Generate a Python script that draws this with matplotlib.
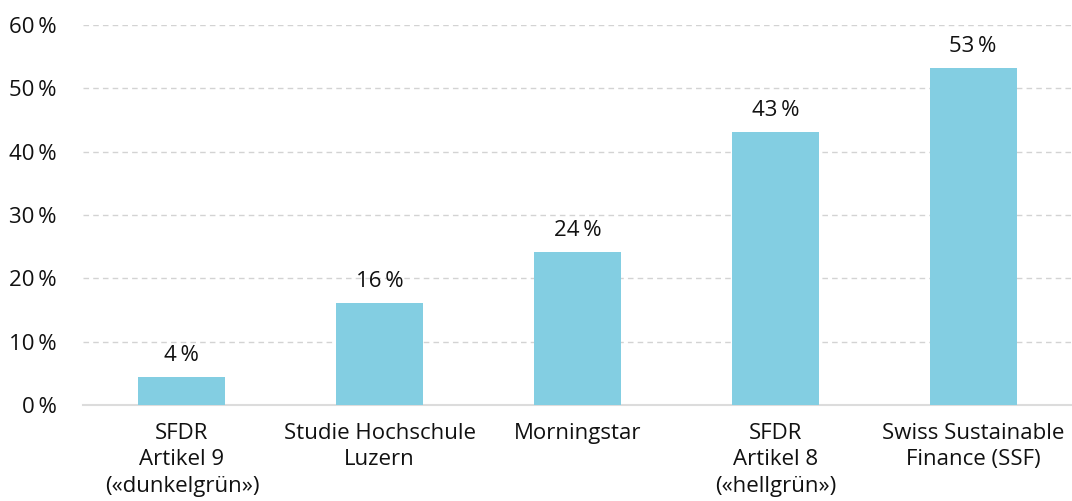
import matplotlib
matplotlib.use("Agg")
import matplotlib.pyplot as plt

# data
categories = ["SFDR\nArtikel 9\n(«dunkelgrün»)", "Studie Hochschule\nLuzern", "Morningstar",
              "SFDR\nArtikel 8\n(«hellgrün»)", "Swiss Sustainable\nFinance (SSF)"]
values = [4.4, 16.1, 24.2, 43.1, 53.2]
value_labels = ["4\u2009%", "16\u2009%", "24\u2009%", "43\u2009%", "53\u2009%"]
yticks = [0, 10, 20, 30, 40, 50, 60]

plt.rcParams['font.family'] = ['Open Sans', 'DejaVu Sans']

fig = plt.figure(figsize=(10.72, 5.01), dpi=100)
ax = fig.add_axes([0.0774, 0.1916, 0.9226, 0.7584])

x = range(len(categories))
ax.bar(x, values, width=0.44, color='#83CEE2', zorder=3)

for xi, v, lab in zip(x, values, value_labels):
    ax.text(xi, v + 1.7, lab, ha='center', va='bottom', fontsize=16, color='#111111')

ax.set_xlim(-0.5, 4.5)
ax.set_ylim(0, 60)
ax.set_yticks(yticks)
ax.set_yticklabels([f"{t}\u2009%" for t in yticks], fontsize=16, color='#111111')
ax.set_xticks(list(x))
ax.set_xticklabels(categories, fontsize=16, color='#111111', linespacing=1.33)
ax.tick_params(axis='both', length=0)
ax.tick_params(axis='y', pad=19)
ax.tick_params(axis='x', pad=13)

ax.yaxis.grid(True, linestyle=(0, (4, 3)), color='#d3d3d3', linewidth=1, zorder=0)
for s in ['top', 'right', 'left']:
    ax.spines[s].set_visible(False)
ax.spines['bottom'].set_color('#dcdcdc')
ax.spines['bottom'].set_linewidth(1.5)

fig.savefig("out.png", dpi=100)
